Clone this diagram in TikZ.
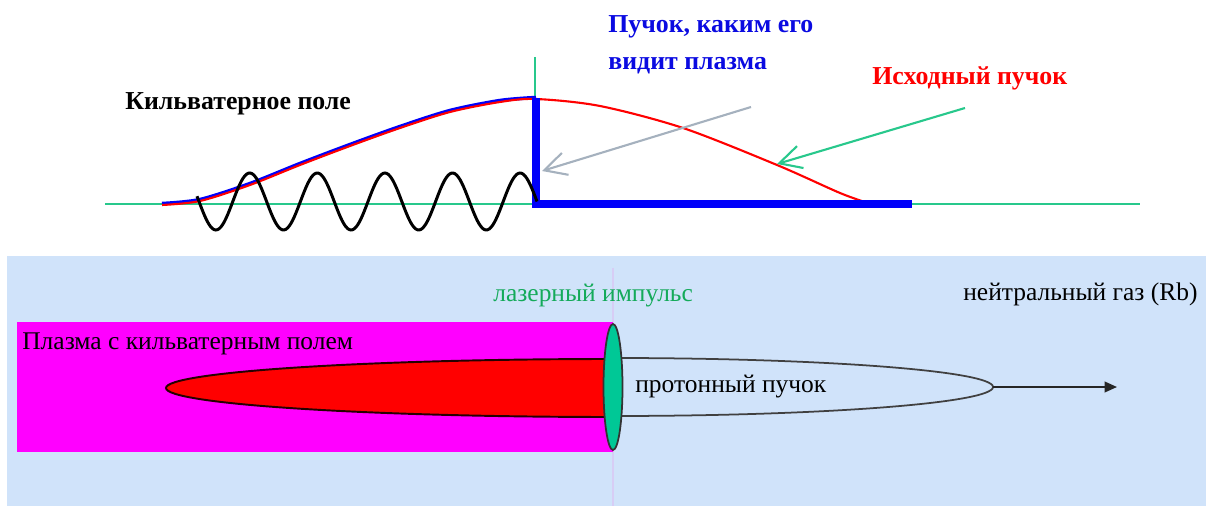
\documentclass[tikz,border=0pt]{standalone}
\usepackage{fontspec}
\setmainfont{Liberation Serif}
\usepackage{tikz}
\usetikzlibrary{arrows.meta, positioning, shapes.geometric}

\definecolor{axisgreen}{RGB}{40,200,140}
\definecolor{arrowgray}{RGB}{165,177,190}
\definecolor{stepblue}{RGB}{0,0,250}
\definecolor{textblue}{RGB}{10,10,225}
\definecolor{plasmamag}{RGB}{255,0,255}
\definecolor{pulsegreen}{RGB}{0,200,150}
\definecolor{gasblue}{RGB}{208,227,250}
\definecolor{lasertext}{RGB}{20,170,90}
\definecolor{ghostline}{RGB}{215,205,245}

\begin{document}
\begin{tikzpicture}[x=0.02cm, y=-0.02cm,
    lbl/.style={inner sep=0pt, anchor=base west, font=\fontsize{14.5pt}{17pt}\selectfont},
    blbl/.style={inner sep=0pt, anchor=base west, font=\fontsize{14.7pt}{17pt}\selectfont\bfseries},
    barb/.style={line width=1.2pt, -{Straight Barb[length=12.5pt, width=13pt]}}]
    \useasboundingbox (0,0) rectangle (1206,506);

    % upper plot
    \draw[axisgreen, line width=1.2pt] (105,204) -- (1140,204);
    \draw[axisgreen, line width=1.2pt] (535,57) -- (535,98);
    \draw[stepblue, line width=2pt] plot[smooth] coordinates {(162,203.5) (200,199.5) (250,183.5) (300,163.5) (350,144.5) (400,126.5) (450,110.5) (500,100.5) (536,97.5)};
    \draw[red, line width=1.2pt] plot[smooth] coordinates {(162,205) (200,201) (250,185) (300,165) (350,146) (400,128) (450,112) (500,102) (536,99) (600,106) (683,128) (777,165) (840,193) (868,203)};
    \draw[stepblue, line width=4.5pt, line join=miter] (536,98) -- (536,204) -- (912,204);
    \draw[line width=1.7pt] plot[domain=197:537, samples=200] (\x, {201.5+28.5*sin(5.3254*(\x-199))});

    \node[blbl] (wake) at (125,110) {Кильватерное поле};
    \node[blbl, textblue] (seen1) at (608,33) {Пучок, каким его};
    \node[blbl, textblue] (seen2) at (608,70) {видит плазма};
    \node[blbl, red] (orig) at (872,85) {Исходный пучок};

    \coordinate (seenfrom) at (751,107);
    \coordinate (seento) at (542,171);
    \coordinate (origfrom) at (965,108);
    \coordinate (origto) at (777,164);
    \draw[barb, arrowgray] (seenfrom) -- (seento);
    \draw[barb, axisgreen] (origfrom) -- (origto);

    % lower sketch
    \fill[gasblue] (7,256) rectangle (1206,506);
    \draw[ghostline, line width=0.6pt] (613,268) -- (613,506);
    \fill[plasmamag] (17,322) rectangle (613,452);
    \draw[line width=1.1pt, draw=black!85!red, fill=red] (613,359) arc[start angle=270, end angle=90, x radius=447, y radius=29] -- cycle;
    \draw[line width=1pt, draw=black!75] (613,358) arc[start angle=270, end angle=450, x radius=380, y radius=29];
    \node[ellipse, draw=black!80, line width=1pt, fill=pulsegreen, inner sep=0pt,
          minimum width=0.38cm, minimum height=2.52cm] (pulse) at (613,387) {};

    \coordinate (ptip) at (993,387);
    \coordinate (pend) at (1117,387);
    \draw[line width=1.1pt, draw=black!85, -{Triangle[length=7pt, width=6pt]}] (ptip) -- (pend);

    \node[lbl] (plasma) at (22,349) {Плазма с кильватерным полем};
    \node[lbl, lasertext] (laser) at (493,302) {лазерный импульс};
    \node[lbl] (proton) at (635,392) {протонный пучок};
    \node[lbl] (gas) at (963,300) {нейтральный газ (Rb)};
\end{tikzpicture}
\end{document}
